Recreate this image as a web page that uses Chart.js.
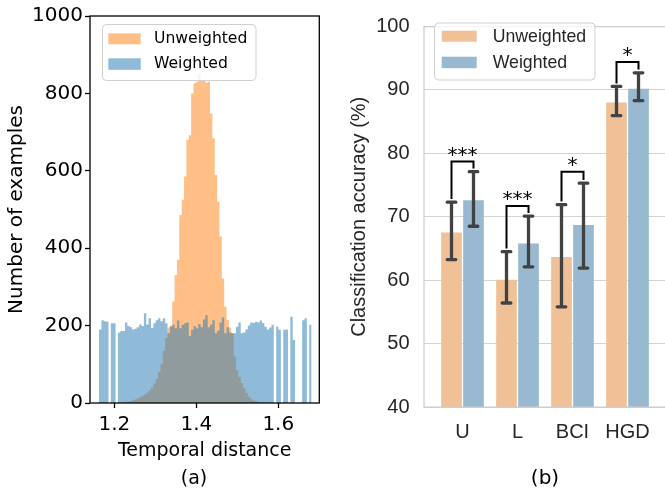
<!DOCTYPE html>
<html><head><meta charset="utf-8">
<script src="https://cdn.jsdelivr.net/npm/chart.js@4.4.0/dist/chart.umd.min.js"></script>
<style>
html,body{margin:0;padding:0;background:#fff;}
body{width:665px;height:489px;overflow:hidden;position:relative;}
#c1{position:absolute;left:0;top:0;}
#c2{position:absolute;left:330px;top:0;}
</style></head><body>
<canvas id="c1" width="330" height="489"></canvas>
<canvas id="c2" width="345" height="489"></canvas>
<script>
// ---------- (a) histogram data ----------
const binStart = 1.1627;      // left edge of first bin
const binWidth = 0.005761;    // width of each of the 90 bins
const unweightedCounts = [
  0,0,0,0,0,0,0,0,0,1, 2,3,4,5,7,9,12,15,18,22,
  27,33,40,50,62,80,100,135,168,195, 200,262,331,370,486,525,585,680,692,800,
  826,830,850,832,835,828,830,748,684,589, 520,430,322,249,215,195,181,120,85,68,
  52,38,25,16,10,7,5,3,2,1, 0,0,0,0,0,0,0,0,0,0, 0,0,0,0,0,0,0,0,0,0
];
const weightedCounts = [
  190,214,211,210,0,206,206,0,182,186, 186,208,199,196,190,192,196,203,199,232,
  203,219,194,206,214,219,211,219,206,180, 197,202,193,213,193,202,206,208,173,189,
  199,193,204,196,216,227,196,202,214,180, 187,208,221,180,196,182,180,180,197,208,
  180,182,190,200,208,207,210,208,213,207, 197,190,195,202,0,197,189,0,189,190,
  0,223,163,0,0,0,214,219,0,202
];
const histXTicks = [1.2, 1.4, 1.6];
const histYTicks = [0, 200, 400, 600, 800, 1000];

// ---------- (b) accuracy data ----------
const categories = ['U', 'L', 'BCI', 'HGD'];
const unweightedAcc = [67.5, 60.05, 63.65, 88.0];
const weightedAcc   = [72.6, 65.8, 68.7, 90.2];
const unweightedLow  = [63.25, 56.4, 55.8, 85.95];
const unweightedHigh = [72.3, 64.5, 71.9, 90.55];
const weightedLow    = [68.5, 62.1, 61.9, 88.3];
const weightedHigh   = [77.1, 70.1, 75.3, 92.7];
const bracketTop      = [78.7, 71.7, 77.1, 94.4];
const bracketLeftEnd  = [72.8, 65.0, 72.4, 91.0];
const bracketRightEnd = [77.6, 70.6, 75.8, 93.2];
const sigLabels = ['***', '***', '*', '*'];
const accTicks = [40, 50, 60, 70, 80, 90, 100];

const DJ = "'DejaVu Sans'";
const LS = "'Liberation Sans'";

function toSteps(counts) {
  const pts = counts.map((c, i) => ({ x: binStart + i * binWidth, y: c }));
  pts.push({ x: binStart + counts.length * binWidth, y: 0 });
  return pts;
}

const frameA = {
  id: 'frameA',
  afterDatasetsDraw(chart) {
    const { ctx, chartArea: a } = chart;
    ctx.save();
    ctx.strokeStyle = '#000';
    ctx.lineWidth = 1.3;
    ctx.strokeRect(a.left, a.top, a.right - a.left, a.bottom - a.top);
    // legend
    ctx.beginPath();
    ctx.roundRect(102.5, 24.5, 153.5, 56, 4);
    ctx.fillStyle = 'rgba(255,255,255,0.8)';
    ctx.fill();
    ctx.strokeStyle = '#d0d0d0';
    ctx.lineWidth = 1;
    ctx.stroke();
    const ds = chart.data.datasets;
    const rows = [{ y: 33.3, h: 11, ty: 39 }, { y: 58.3, h: 11.5, ty: 64 }];
    ds.forEach((d, i) => {
      ctx.fillStyle = d.backgroundColor;
      ctx.fillRect(108.3, rows[i].y, 32.4, rows[i].h);
      ctx.fillStyle = '#000';
      ctx.font = '15.6px ' + DJ;
      ctx.textBaseline = 'middle';
      ctx.textAlign = 'left';
      ctx.fillText(d.label, 154, rows[i].ty);
    });
    ctx.restore();
  },
  afterDraw(chart) {
    const ctx = chart.ctx;
    ctx.save();
    ctx.fillStyle = '#000';
    ctx.font = '19px ' + DJ;
    ctx.textAlign = 'center';
    ctx.textBaseline = 'middle';
    ctx.fillText('(a)', 194, 479);
    ctx.restore();
  }
};

new Chart(document.getElementById('c1'), {
  type: 'line',
  data: {
    datasets: [
      { label: 'Unweighted', data: toSteps(unweightedCounts), stepped: 'before',
        fill: 'origin', backgroundColor: 'rgba(255,127,14,0.5)', borderWidth: 0,
        borderColor: 'rgba(0,0,0,0)', pointRadius: 0, order: 2 },
      { label: 'Weighted', data: toSteps(weightedCounts), stepped: 'before',
        fill: 'origin', backgroundColor: 'rgba(31,119,180,0.5)', borderWidth: 0,
        borderColor: 'rgba(0,0,0,0)', pointRadius: 0, order: 1 }
    ]
  },
  options: {
    responsive: false, animation: false, devicePixelRatio: 1,
    layout: { padding: { left: 0, top: 16, right: 10.7, bottom: 0 } },
    plugins: { legend: { display: false }, tooltip: { enabled: false } },
    scales: {
      x: {
        type: 'linear', min: 1.1407, max: 1.700,
        afterFit(s) { s.height = 86; },
        afterBuildTicks(s) { s.ticks = histXTicks.map(v => ({ value: v })); },
        ticks: { font: { family: DJ, size: 20 }, color: '#000', padding: 4.5,
                 maxRotation: 0, autoSkip: false, callback: v => v.toFixed(1) },
        grid: { drawOnChartArea: false, drawTicks: true, tickLength: 5, tickColor: '#000', tickWidth: 1.3 },
        border: { display: false },
        title: { display: true, text: 'Temporal distance', color: '#000',
                 font: { family: DJ, size: 19 }, padding: { top: 0, bottom: 26.8 } }
      },
      y: {
        min: 0, max: 1000,
        afterFit(s) { s.width = 90; },
        afterBuildTicks(s) { s.ticks = histYTicks.map(v => ({ value: v })); },
        ticks: { font: { family: DJ, size: 20 }, color: '#000', padding: 2, autoSkip: false,
                 callback: v => String(v) },
        grid: { drawOnChartArea: false, drawTicks: true, tickLength: 5, tickColor: '#000', tickWidth: 1.3 },
        border: { display: false },
        title: { display: true, text: 'Number of examples', color: '#000',
                 font: { family: DJ, size: 20 }, padding: { top: 5, bottom: 0 } }
      }
    }
  },
  plugins: [frameA]
});

const ORANGE_B = '#F0C096';
const BLUE_B = '#98B9D0';

const decorB = {
  id: 'decorB',
  afterDatasetsDraw(chart) {
    const { ctx, chartArea: a, scales: { y } } = chart;
    ctx.save();
    // spines
    ctx.strokeStyle = '#cccccc';
    ctx.lineWidth = 1.25;
    ctx.beginPath();
    ctx.moveTo(a.right + 2, a.top); ctx.lineTo(a.left, a.top);
    ctx.lineTo(a.left, a.bottom); ctx.lineTo(a.right + 2, a.bottom);
    ctx.stroke();
    // error bars
    const m0 = chart.getDatasetMeta(0), m1 = chart.getDatasetMeta(1);
    ctx.strokeStyle = '#424242';
    ctx.lineWidth = 3.3;
    const drawErr = (x, lo, hi) => {
      const p1 = y.getPixelForValue(lo), p2 = y.getPixelForValue(hi);
      ctx.lineCap = 'butt';
      ctx.beginPath(); ctx.moveTo(x, p1); ctx.lineTo(x, p2); ctx.stroke();
      ctx.lineCap = 'round';
      ctx.beginPath();
      ctx.moveTo(x - 4.3, p1); ctx.lineTo(x + 4.3, p1);
      ctx.moveTo(x - 4.3, p2); ctx.lineTo(x + 4.3, p2);
      ctx.stroke();
    };
    categories.forEach((c, i) => {
      drawErr(m0.data[i].x, unweightedLow[i], unweightedHigh[i]);
      drawErr(m1.data[i].x, weightedLow[i], weightedHigh[i]);
    });
    // significance brackets
    ctx.strokeStyle = '#000';
    ctx.lineWidth = 2;
    ctx.lineCap = 'butt';
    ctx.lineJoin = 'miter';
    ctx.fillStyle = '#000';
    ctx.font = '20px ' + DJ;
    ctx.textAlign = 'center';
    ctx.textBaseline = 'alphabetic';
    categories.forEach((c, i) => {
      const x1 = m0.data[i].x, x2 = m1.data[i].x;
      const yt = y.getPixelForValue(bracketTop[i]);
      ctx.beginPath();
      ctx.moveTo(x1, y.getPixelForValue(bracketLeftEnd[i]));
      ctx.lineTo(x1, yt); ctx.lineTo(x2, yt);
      ctx.lineTo(x2, y.getPixelForValue(bracketRightEnd[i]));
      ctx.stroke();
      ctx.fillText(sigLabels[i], (x1 + x2) / 2, yt - 1);
    });
    // legend
    ctx.beginPath();
    ctx.roundRect(104.5, 23, 160.5, 57, 4);
    ctx.fillStyle = 'rgba(255,255,255,0.8)';
    ctx.fill();
    ctx.strokeStyle = '#d0d0d0';
    ctx.lineWidth = 1;
    ctx.stroke();
    const rows = [{ y: 30.7, h: 11, ty: 37 }, { y: 56.7, h: 11.5, ty: 63 }];
    chart.data.datasets.forEach((d, i) => {
      ctx.fillStyle = d.backgroundColor;
      ctx.fillRect(111.7, rows[i].y, 35, rows[i].h);
      ctx.fillStyle = '#262626';
      ctx.font = '17.7px ' + LS;
      ctx.textBaseline = 'middle';
      ctx.textAlign = 'left';
      ctx.fillText(d.label, 162.7, rows[i].ty);
    });
    ctx.restore();
  },
  afterDraw(chart) {
    const ctx = chart.ctx;
    ctx.save();
    ctx.fillStyle = '#000';
    ctx.font = '20px ' + DJ;
    ctx.textAlign = 'center';
    ctx.textBaseline = 'middle';
    ctx.fillText('(b)', 215, 479);
    ctx.restore();
  }
};

new Chart(document.getElementById('c2'), {
  type: 'bar',
  data: {
    datasets: [
      { label: 'Unweighted', data: unweightedAcc.map((v, i) => ({ x: i, y: v })),
        backgroundColor: ORANGE_B, borderWidth: 0, categoryPercentage: 0.8, barPercentage: 0.94 },
      { label: 'Weighted', data: weightedAcc.map((v, i) => ({ x: i, y: v })),
        backgroundColor: BLUE_B, borderWidth: 0, categoryPercentage: 0.8, barPercentage: 0.94 }
    ]
  },
  options: {
    responsive: false, animation: false, devicePixelRatio: 1,
    layout: { padding: { left: 0, top: 13, right: 9, bottom: 0 } },
    plugins: { legend: { display: false }, tooltip: { enabled: false } },
    scales: {
      x: {
        type: 'linear', min: -0.7, max: 3.7, offset: false,
        afterFit(s) { s.height = 82; },
        afterBuildTicks(s) { s.ticks = categories.map((c, i) => ({ value: i })); },
        ticks: { font: { family: LS, size: 20 }, color: '#262626', padding: 13,
                 maxRotation: 0, autoSkip: false, callback: v => categories[v] },
        grid: { display: false, drawTicks: false },
        border: { display: false }
      },
      y: {
        min: 40, max: 100,
        afterFit(s) { s.width = 94; },
        afterBuildTicks(s) { s.ticks = accTicks.map(v => ({ value: v })); },
        ticks: { font: { family: LS, size: 20 }, color: '#262626', padding: 14.5, autoSkip: false,
                 callback: v => String(v) },
        grid: { color: '#d4d4d4', lineWidth: 1, drawTicks: false },
        border: { display: false },
        title: { display: true, text: 'Classification accuracy (%)', color: '#262626',
                 font: { family: LS, size: 20 }, padding: { top: 17.5, bottom: 0 } }
      }
    }
  },
  plugins: [decorB]
});
</script></body></html>
